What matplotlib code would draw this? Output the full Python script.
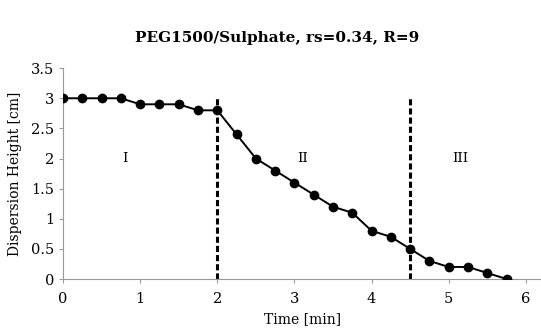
import matplotlib
matplotlib.use("Agg")
import matplotlib.pyplot as plt

# Dispersion height vs time
time_min = [0, 0.25, 0.5, 0.75, 1.0, 1.25, 1.5, 1.75, 2.0, 2.25, 2.5, 2.75,
            3.0, 3.25, 3.5, 3.75, 4.0, 4.25, 4.5, 4.75, 5.0, 5.25, 5.5, 5.75]
height_cm = [3.0, 3.0, 3.0, 3.0, 2.9, 2.9, 2.9, 2.8, 2.8, 2.4, 2.0, 1.8,
             1.6, 1.4, 1.2, 1.1, 0.8, 0.7, 0.5, 0.3, 0.2, 0.2, 0.1, 0.0]
boundaries = [2.0, 4.5]
regions = ["I", "II", "III"]
region_x = [0.8, 3.1, 5.15]

plt.rcParams['font.family'] = ['DejaVu Serif']

fig = plt.figure(figsize=(5.41, 3.30), dpi=100)
ax = fig.add_axes([0.1165, 0.1545, 0.884, 0.639])

ax.plot(time_min, height_cm, color="black", lw=1.4, marker="o", ms=6, zorder=3)
for b in boundaries:
    ax.plot([b, b], [0, 3.0], color="black", lw=2.2, ls=(0, (2.0, 1.0)), zorder=2)
for name, xr in zip(regions, region_x):
    ax.text(xr, 2.0, name, ha="center", va="center", fontsize=9.5)

ax.set_xlim(0, 6.2)
ax.set_ylim(0, 3.5)
ax.set_xticks(range(0, 7))
ax.set_yticks([0, 0.5, 1, 1.5, 2, 2.5, 3, 3.5])
ax.set_yticklabels(["0", "0.5", "1", "1.5", "2", "2.5", "3", "3.5"])
ax.tick_params(labelsize=10.5, length=3, color="#999999", width=0.8)
ax.tick_params(axis="x", pad=6)
for s in ["top", "right"]:
    ax.spines[s].set_visible(False)
for s in ["left", "bottom"]:
    ax.spines[s].set_color("#999999")
    ax.spines[s].set_linewidth(0.8)

ax.set_xlabel("Time [min]", fontsize=10, labelpad=5)
ax.set_ylabel("Dispersion Height [cm]", fontsize=10, labelpad=6)
fig.text(0.512, 0.885, "PEG1500/Sulphate, rs=0.34, R=9", ha="center", va="center",
         fontsize=11, fontweight="bold")

fig.savefig("out.png", dpi=100)
